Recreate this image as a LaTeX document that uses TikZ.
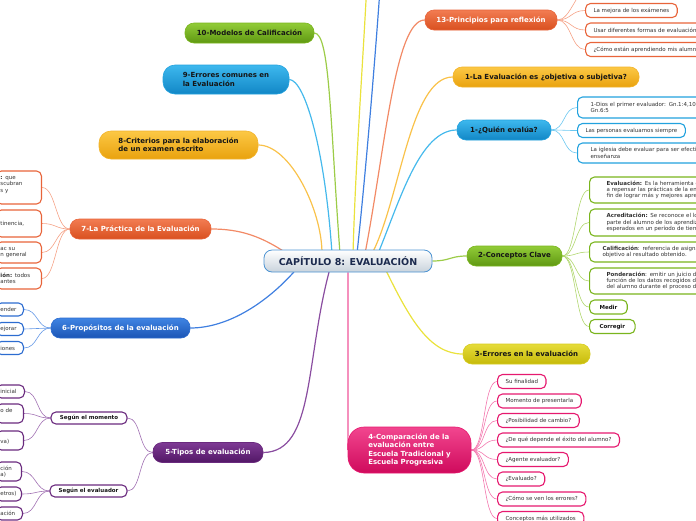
\documentclass[tikz,border=0pt]{standalone}
\usepackage{fontspec}
\setmainfont{DejaVu Sans}
\usetikzlibrary{backgrounds}
\definecolor{orT}{HTML}{F27C52}\definecolor{orB}{HTML}{D9501F}\definecolor{orD}{HTML}{E8643A}\definecolor{orL}{HTML}{F28A66}
\definecolor{yoT}{HTML}{FCC845}\definecolor{yoB}{HTML}{E9A20E}\definecolor{yoD}{HTML}{F2B32A}\definecolor{yoL}{HTML}{F9C24A}
\definecolor{lbT}{HTML}{3DB8EE}\definecolor{lbB}{HTML}{1287C6}\definecolor{lbD}{HTML}{22A2DE}\definecolor{lbL}{HTML}{45B9EC}
\definecolor{grT}{HTML}{92CC38}\definecolor{grB}{HTML}{5F9812}\definecolor{grD}{HTML}{7AB51D}\definecolor{grL}{HTML}{9CCC48}
\definecolor{blT}{HTML}{3F84E3}\definecolor{blB}{HTML}{1B55B5}\definecolor{blD}{HTML}{2C6CD0}\definecolor{blL}{HTML}{3F7FE0}
\definecolor{puT}{HTML}{7E3A94}\definecolor{puB}{HTML}{521766}\definecolor{puD}{HTML}{6A2A7E}\definecolor{puL}{HTML}{8A4DA0}
\definecolor{piT}{HTML}{F2468F}\definecolor{piB}{HTML}{CF0A5C}\definecolor{piD}{HTML}{E6196F}\definecolor{piL}{HTML}{F0559A}
\definecolor{yeT}{HTML}{E6DC3A}\definecolor{yeB}{HTML}{C6BA0A}\definecolor{yeD}{HTML}{D6CC20}\definecolor{yeL}{HTML}{EAE23C}
\definecolor{ceT}{HTML}{FFFFFF}\definecolor{ceB}{HTML}{C9D3DC}\definecolor{ceD}{HTML}{4C93D2}\definecolor{ceX}{HTML}{1B2A4E}
\definecolor{txt}{HTML}{333333}\definecolor{dk}{HTML}{151515}
\newcommand{\topicfont}{\fontsize{7}{8.3}\selectfont\bfseries}
\newcommand{\leaffont}{\fontsize{5.5}{6.3}\selectfont}
\newcommand{\centerfont}{\fontsize{9.5}{11}\selectfont\bfseries}
\tikzset{
  topic/.style={rounded corners=9pt, inner sep=0pt, align=left, font=\topicfont, line width=0.6pt, minimum height=20pt},
  tOR/.style={topic, top color=orT, bottom color=orB, draw=orD, text=white},
  tYO/.style={topic, top color=yoT, bottom color=yoB, draw=yoD, text=dk},
  tLB/.style={topic, top color=lbT, bottom color=lbB, draw=lbD, text=dk},
  tGR/.style={topic, top color=grT, bottom color=grB, draw=grD, text=dk},
  tBL/.style={topic, top color=blT, bottom color=blB, draw=blD, text=white},
  tPU/.style={topic, top color=puT, bottom color=puB, draw=puD, text=white},
  tPI/.style={topic, top color=piT, bottom color=piB, draw=piD, text=white},
  tYE/.style={topic, top color=yeT, bottom color=yeB, draw=yeD, text=dk},
  leaf/.style={fill=white, line width=1.1pt, rounded corners=5pt, inner xsep=8pt, inner ysep=0pt, minimum height=14pt, font=\leaffont, text=txt, align=left},
  leafR/.style={leaf, anchor=west},
  leafL/.style={leaf, anchor=east, inner xsep=4pt, text width=#1},
  mainedge/.style={line width=1.2pt},
  subedge/.style={line width=0.6pt}
}
\begin{document}
\begin{tikzpicture}[x=1pt,y=-1pt]
\useasboundingbox (0,0) rectangle (696,520);
\clip (0,0) rectangle (696,520);
% centre
\node[draw=ceD, line width=0.8pt, top color=ceT, bottom color=ceB, rounded corners=8pt, minimum width=168pt, minimum height=22pt, inner sep=0pt, font=\centerfont, text=ceX] (c) at (348,261) {CAPÍTULO 8: EVALUACIÓN};
% topics
\node[tOR, minimum width=132pt] (t13) at (491,20) {13-Principios para reflexión};
\node[tYO, minimum width=186pt] (t1a) at (546,77) {1-La Evaluación es ¿objetiva o subjetiva?};
\node[tLB, minimum width=94pt] (t1b) at (504,130) {1-¿Quién evalúa?};
\node[tGR, minimum width=95pt] (t2) at (514.5,256) {2-Conceptos Clave};
\node[tYE, minimum width=127pt] (t3) at (526.5,354) {3-Errores en la evaluación};
\node[tPI, minimum width=123pt, minimum height=46pt, rounded corners=16pt] (t4) at (409.5,450) {4-Comparación de la\\evaluación entre\\Escuela Tradicional y\\Escuela Progresiva};
\node[tPU, minimum width=110pt] (t5) at (208,452.5) {5-Tipos de evaluación};
\node[tBL, minimum width=139pt] (t6) at (120.5,328) {6-Propósitos de la evaluación};
\node[tOR, minimum width=141pt] (t7) at (140.5,229) {7-La Práctica de la Evaluación};
\node[tYO, minimum width=159pt, minimum height=28pt, rounded corners=12pt] (t8) at (178.5,145) {8-Criterios para la elaboración\\de un examen escrito};
\node[tLB, minimum width=126pt, minimum height=29pt, rounded corners=12pt] (t9) at (226,79.5) {9-Errores comunes en\\la Evaluación};
\node[tGR, minimum width=129pt] (t10) at (249.5,33) {10-Modelos de Calificación};
% free ends above the picture
\coordinate (u11) at (382,-40);
\coordinate (u12) at (368,-40);
\coordinate (u13) at (590,-12);
% 13 leaves
\node[leafR, draw=orD] (l13a) at (585,10.5) {La mejora de los exámenes};
\node[leafR, draw=orD] (l13b) at (585,30) {Usar diferentes formas de evaluación};
\node[leafR, draw=orD] (l13c) at (585,49.5) {¿Cómo están aprendiendo mis alumnos?};
% Quien leaves
\node[leafR, draw=lbD, inner xsep=13pt, text width=160pt, minimum height=21pt] (lq1) at (577,107.5) {1-Dios el primer evaluador: Gn.1:4,10,\\Gn.6:5};
\node[leafR, draw=lbD] (lq2) at (577,130.5) {Las personas evaluamos siempre};
\node[leafR, draw=lbD, inner xsep=13pt, text width=160pt, minimum height=20pt] (lq3) at (577,153) {La iglesia debe evaluar para ser efectiva\\enseñanza};
% Conceptos leaves
\node[leafR, draw=grD, inner xsep=17pt, text width=160pt, minimum height=26pt] (lc1) at (589,190) {\textbf{Evaluación:} Es la herramienta c\\a repensar las prácticas de la ens\\fin de lograr más y mejores apre};
\node[leafR, draw=grD, inner xsep=17pt, text width=160pt, minimum height=27pt] (lc2) at (589,222.5) {\textbf{Acreditación:} Se reconoce el lo\\parte del alumno de los aprendiz\\esperados en un período de tiem};
\node[leafR, draw=grD, inner xsep=13pt, text width=160pt, minimum height=20pt] (lc3) at (589,252) {\textbf{Calificación}: referencia de asigna\\objetivo al resultado obtenido.};
\node[leafR, draw=grD, inner xsep=17pt, text width=160pt, minimum height=26pt] (lc4) at (589,281) {\textbf{Ponderación}: emitir un juicio d\\función de los datos recogidos d\\del alumno durante el proceso de};
\node[leafR, draw=grD, inner xsep=10pt, font=\leaffont\bfseries, text=dk] (lc5) at (589,307) {Medir};
\node[leafR, draw=grD, inner xsep=10pt, font=\leaffont\bfseries, text=dk] (lc6) at (589,326.5) {Corregir};
% 4 leaves
\node[leafR, draw=piD] (lp1) at (497,381.5) {Su finalidad};
\node[leafR, draw=piD] (lp2) at (497,401) {Momento de presentarla};
\node[leafR, draw=piD] (lp3) at (497,420.5) {¿Posibilidad de cambio?};
\node[leafR, draw=piD] (lp4) at (497,440) {¿De qué depende el éxito del alumno?};
\node[leafR, draw=piD] (lp5) at (497,459.5) {¿Agente evaluador?};
\node[leafR, draw=piD] (lp6) at (497,479) {¿Evaluado?};
\node[leafR, draw=piD] (lp7) at (497,499) {¿Cómo se ven los errores?};
\node[leafR, draw=piD] (lp8) at (497,518.5) {Conceptos más utilizados};
% 7 leaves
\node[leafL=37pt, draw=orD, minimum height=33pt] (l7a) at (42,187.5) {\textbf{:} que\\scubran\\s y\\\mbox{}};
\node[leafL=37pt, draw=orD, minimum height=27pt] (l7b) at (42,223.5) {tinencia,};
\node[leafL=37pt, draw=orD, minimum height=21pt] (l7c) at (42,252.5) {ac su\\n general};
\node[leafL=37pt, draw=orD, minimum height=21pt] (l7d) at (42,278.5) {\textbf{ión:} todos\\antes};
% 6 leaves
\node[leafL=19pt, draw=blD, minimum height=13pt] (l6a) at (24,309.5) {ender};
\node[leafL=19pt, draw=blD, minimum height=13pt] (l6b) at (24,329) {ejorar};
\node[leafL=19pt, draw=blD, minimum height=13pt] (l6c) at (24,348) {iones};
% 5 sub-branches
\node[leaf, draw=puD, font=\leaffont\bfseries, text=dk, minimum width=76pt, minimum height=12pt, inner xsep=0pt] (m1) at (89,418) {Según el momento};
\node[leaf, draw=puD, font=\leaffont\bfseries, text=dk, minimum width=77pt, minimum height=12pt, inner xsep=0pt] (m2) at (88.5,491) {Según el evaluador};
\node[leafL=20pt, draw=puD, minimum height=13pt] (lm1) at (25,391.5) {inicial};
\node[leafL=19pt, draw=puD, minimum height=19pt] (lm2) at (24,413.5) {o de\\\mbox{}};
\node[leafL=19pt, draw=puD, minimum height=19pt] (lm3) at (24,440.5) {\mbox{}\\va)};
\node[leafL=17pt, draw=puD, minimum height=19pt] (le1) at (22,471.5) {ción\\a)};
\node[leafL=17pt, draw=puD, minimum height=14pt] (le2) at (22,494) {etros)};
\node[leafL=18pt, draw=puD, minimum height=13pt] (le3) at (23,513.5) {ación};
% connectors
\begin{scope}[on background layer]
\clip (0,0) rectangle (696,520);
\draw[mainedge, draw=yoL] ([xshift=-26pt,yshift=-4pt]c.north) .. controls (322,210) and (290,145) .. (t8.east);
\draw[mainedge, draw=lbL] ([xshift=-16pt,yshift=-4pt]c.north) .. controls (325,150) and (305,80) .. (t9.east);
\draw[mainedge, draw=grL] ([xshift=-8pt,yshift=-4pt]c.north) .. controls (330,120) and (330,33) .. (t10.east);
\draw[mainedge, draw=yeL] ([xshift=5pt,yshift=-4pt]c.north) .. controls (356,150) and (364,50) .. (u12);
\draw[mainedge, draw=blL] ([xshift=9pt,yshift=-4pt]c.north) .. controls (366,170) and (376,50) .. (u11);
\draw[mainedge, draw=orL] ([xshift=17pt,yshift=-4pt]c.north) .. controls (385,150) and (395,20) .. (t13.west);
\draw[mainedge, draw=yoL] ([xshift=24pt,yshift=-4pt]c.north) .. controls (400,200) and (410,77) .. (t1a.west);
\draw[mainedge, draw=lbL] ([xshift=30pt,yshift=-4pt]c.north) .. controls (400,200) and (420,130) .. (t1b.west);
\draw[mainedge, draw=grL] (c.east) .. controls (450,261) and (450,256) .. (t2.west);
\draw[mainedge, draw=yeL] ([xshift=37pt,yshift=4pt]c.south) .. controls (410,320) and (430,354) .. (t3.west);
\draw[mainedge, draw=piL] (c.south) .. controls (348,400) and (348,450) .. (t4.west);
\draw[mainedge, draw=puL] ([xshift=-18pt,yshift=4pt]c.south) .. controls (305,360) and (315,452) .. (t5.east);
\draw[mainedge, draw=blL] ([xshift=-51pt,yshift=4pt]c.south) .. controls (270,300) and (230,328) .. (t6.east);
\draw[mainedge, draw=orL] (t7.east) .. controls (240,229) and (262,236) .. ([xshift=-58pt,yshift=-6pt]c.north);
% leaf connectors
\foreach \n in {l13a,l13b,l13c,u13}
  \draw[subedge, draw=orL!80!white] (t13.east) .. controls +(14,0) and +(-14,0) .. (\n.west);
\foreach \n in {lq1,lq2,lq3}
  \draw[subedge, draw=lbL!80!white] (t1b.east) .. controls +(14,0) and +(-14,0) .. (\n.west);
\foreach \n in {lc1,lc2,lc3,lc4,lc5,lc6}
  \draw[subedge, draw=grL!80!white] (t2.east) .. controls +(14,0) and +(-14,0) .. (\n.west);
\foreach \n in {lp1,lp2,lp3,lp4,lp5,lp6,lp7,lp8}
  \draw[subedge, draw=piL!80!white] (t4.east) .. controls +(14,0) and +(-14,0) .. (\n.west);
\foreach \n in {l7a,l7b,l7c,l7d}
  \draw[subedge, draw=orL!80!white] (t7.west) .. controls +(-14,0) and +(14,0) .. (\n.east);
\foreach \n in {l6a,l6b,l6c}
  \draw[subedge, draw=blL!80!white] (t6.west) .. controls +(-14,0) and +(14,0) .. (\n.east);
\foreach \n in {m1,m2}
  \draw[subedge, draw=puL!80!white] (t5.west) .. controls +(-14,0) and +(14,0) .. (\n.east);
\foreach \n in {lm1,lm2,lm3}
  \draw[subedge, draw=puL!80!white] (m1.west) .. controls +(-14,0) and +(14,0) .. (\n.east);
\foreach \n in {le1,le2,le3}
  \draw[subedge, draw=puL!80!white] (m2.west) .. controls +(-14,0) and +(14,0) .. (\n.east);
\end{scope}
\end{tikzpicture}
\end{document}
